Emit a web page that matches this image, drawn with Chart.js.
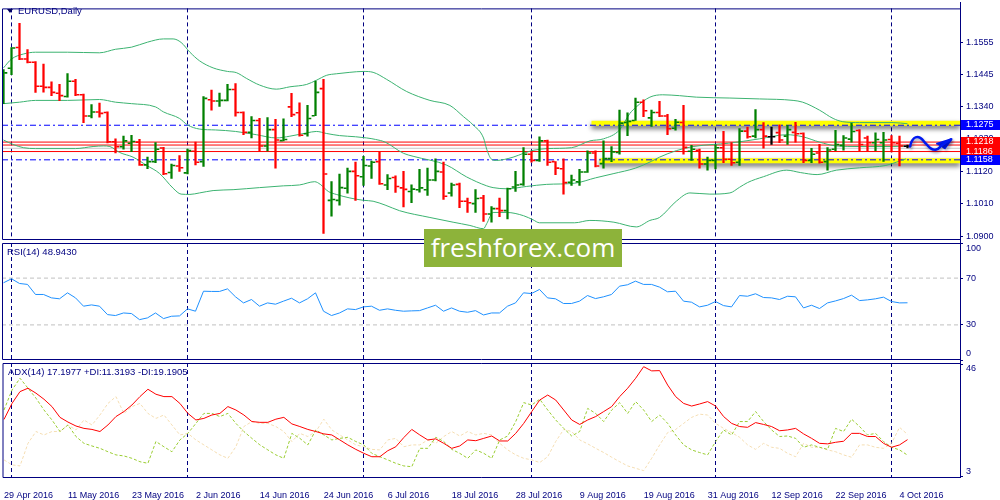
<!DOCTYPE html>
<html><head><meta charset="utf-8">
<script src="https://cdn.jsdelivr.net/npm/chart.js@4.4.1/dist/chart.umd.min.js"></script>
<style>
html,body{margin:0;padding:0;background:#fff;}
#wrap{position:relative;width:1000px;height:500px;overflow:hidden;background:#fff;font-family:"Liberation Sans",Arial,sans-serif;}
canvas{position:absolute;left:0;top:0;}
.lbl{position:absolute;font-size:9.5px;color:#000080;white-space:nowrap;line-height:12px;}
#tri{position:absolute;left:7px;top:9px;width:0;height:0;border-left:3px solid transparent;border-right:3px solid transparent;border-top:4px solid #000060;}
#wm{position:absolute;left:424px;top:229px;width:198px;height:38px;background:#8db33a;color:#fff;font-family:"Open Sans",sans-serif;font-size:26px;line-height:37px;text-align:center;}
</style></head><body>
<div id="wrap">
<canvas id="cMain" width="1000" height="500"></canvas>
<canvas id="cRsi" width="1000" height="500"></canvas>
<canvas id="cAdx" width="1000" height="500"></canvas>
<div id="tri"></div>
<div class="lbl" style="left:18px;top:5px">EURUSD,Daily</div>
<div class="lbl" style="left:7px;top:246px">RSI(14) 48.9430</div>
<div class="lbl" style="left:8px;top:366px">ADX(14) 17.1977 +DI:11.3193 -DI:19.1905</div>
<div id="wm">freshforex.com</div>
</div>
<script>
// ---------- data ----------
const barOpen = [1.1350,1.1468,1.1538,1.1499,1.1488,1.1407,1.1403,1.1383,1.1372,1.1424,
 1.1378,1.1306,1.1320,1.1318,1.1219,1.1202,1.1214,1.1218,1.1141,1.1152,
 1.1198,1.1115,1.1137,1.1114,1.1187,1.1152,1.1361,1.1357,1.1359,1.1396,
 1.1318,1.1251,1.1291,1.1205,1.1260,1.1223,1.1337,1.1317,1.1246,1.1307,
 1.1399,1.1021,1.1021,1.1062,1.1119,1.1101,1.1137,1.1152,1.1073,1.1098,
 1.1063,1.1051,1.1057,1.1057,1.1090,1.1117,1.1046,1.1075,1.1018,1.1010,
 1.1029,1.0975,1.0993,1.0986,1.1066,1.1075,1.1177,1.1156,1.1222,1.1152,
 1.1128,1.1082,1.1084,1.1117,1.1181,1.1145,1.1162,1.1183,1.1284,1.1291,
 1.1353,1.1300,1.1318,1.1306,1.1265,1.1284,1.1187,1.1190,1.1144,1.1156,
 1.1199,1.1160,1.1150,1.1255,1.1238,1.1260,1.1236,1.1250,1.1238,1.1251,
 1.1247,1.1156,1.1181,1.1152,1.1194,1.1207,1.1228,1.1257,1.1232,1.1216,
 1.1216,1.1227,1.1214,1.1204];
const barHigh = [1.1463,1.1538,1.1620,1.1531,1.1490,1.1482,1.1422,1.1413,1.1450,1.1430,
 1.1380,1.1345,1.1350,1.1320,1.1229,1.1238,1.1241,1.1227,1.1167,1.1216,
 1.1200,1.1144,1.1172,1.1194,1.1218,1.1372,1.1394,1.1384,1.1413,1.1416,
 1.1320,1.1304,1.1298,1.1301,1.1295,1.1297,1.1383,1.1351,1.1342,1.1424,
 1.1430,1.1084,1.1110,1.1130,1.1150,1.1170,1.1154,1.1185,1.1108,1.1104,
 1.1119,1.1073,1.1126,1.1130,1.1161,1.1150,1.1079,1.1079,1.1029,1.1057,
 1.1038,1.1000,1.1029,1.1062,1.1119,1.1199,1.1185,1.1236,1.1225,1.1152,
 1.1161,1.1106,1.1126,1.1188,1.1188,1.1222,1.1203,1.1326,1.1317,1.1367,
 1.1361,1.1326,1.1356,1.1312,1.1295,1.1342,1.1207,1.1194,1.1167,1.1209,
 1.1254,1.1216,1.1264,1.1269,1.1328,1.1284,1.1269,1.1276,1.1275,1.1285,
 1.1249,1.1197,1.1210,1.1199,1.1258,1.1240,1.1282,1.1260,1.1238,1.1249,
 1.1251,1.1240,1.1238,1.1208];
const barLow = [1.1348,1.1446,1.1497,1.1486,1.1386,1.1387,1.1375,1.1358,1.1370,1.1375,
 1.1284,1.1300,1.1302,1.1215,1.1181,1.1194,1.1186,1.1139,1.1128,1.1148,
 1.1108,1.1095,1.1119,1.1110,1.1141,1.1136,1.1326,1.1339,1.1357,1.1306,
 1.1243,1.1232,1.1186,1.1188,1.1130,1.1222,1.1304,1.1238,1.1238,1.1307,
 1.0909,1.0967,1.1005,1.1045,1.1021,1.1071,1.1095,1.1075,1.1057,1.1048,
 1.0999,1.1013,1.1049,1.1038,1.1087,1.1024,1.1035,1.0996,1.0980,1.0980,
 1.0950,1.0947,1.0966,1.0958,1.1051,1.1071,1.1150,1.1153,1.1139,1.1108,
 1.1042,1.1071,1.1071,1.1115,1.1134,1.1130,1.1152,1.1177,1.1240,1.1291,
 1.1304,1.1271,1.1304,1.1243,1.1258,1.1177,1.1156,1.1130,1.1123,1.1127,
 1.1148,1.1139,1.1139,1.1231,1.1232,1.1197,1.1210,1.1216,1.1210,1.1218,
 1.1148,1.1148,1.1147,1.1123,1.1189,1.1191,1.1218,1.1189,1.1189,1.1189,
 1.1153,1.1185,1.1137,1.1198];
const barClose = [1.1452,1.1536,1.1499,1.1488,1.1407,1.1403,1.1386,1.1375,1.1424,1.1378,
 1.1306,1.1320,1.1315,1.1219,1.1202,1.1222,1.1220,1.1141,1.1152,1.1194,
 1.1111,1.1139,1.1131,1.1189,1.1150,1.1366,1.1357,1.1359,1.1396,1.1318,
 1.1251,1.1291,1.1205,1.1260,1.1225,1.1227,1.1311,1.1241,1.1298,1.1386,
 1.1110,1.1024,1.1064,1.1119,1.1104,1.1139,1.1150,1.1077,1.1095,1.1068,
 1.1058,1.1059,1.1063,1.1090,1.1119,1.1035,1.1073,1.1018,1.1013,1.1027,
 1.0975,1.0993,1.0986,1.1060,1.1073,1.1177,1.1156,1.1222,1.1150,1.1130,
 1.1081,1.1090,1.1117,1.1181,1.1137,1.1162,1.1185,1.1282,1.1288,1.1353,
 1.1324,1.1318,1.1306,1.1263,1.1285,1.1200,1.1194,1.1144,1.1156,1.1199,
 1.1160,1.1148,1.1255,1.1236,1.1260,1.1238,1.1236,1.1225,1.1260,1.1246,
 1.1156,1.1177,1.1150,1.1191,1.1210,1.1232,1.1254,1.1210,1.1216,1.1227,
 1.1225,1.1216,1.1205,1.1204];

const bbUpperIdx = [0,1,2.5,4,8,12,14,16,18,20,21.2,22.2,23.3,24.5,26.2,28,29.1,30.4,32,34.1,35.8,37.9,39.1,40.4,41.6,43.3,45,46.2,47.9,50.4,53.3,55.8,57.5,58.7,60,60.4,61,61.6,63.7,65,66.2,68,71,73.3,75,77,78.3,79.1,80.8,82.4,84.5,86.6,90.8,94.5,98.7,99.9,102,103.7,104.9,107,111.2,113];
const bbUpper = [1.1469,1.1499,1.1516,1.1522,1.1522,1.1520,1.1532,1.1539,1.1556,1.1567,1.1567,1.1555,1.1522,1.1493,1.1469,1.1457,1.1453,1.1433,1.1411,1.1397,1.1405,1.1413,1.1427,1.1444,1.1449,1.1454,1.1457,1.1454,1.1430,1.1389,1.1359,1.1342,1.1304,1.1276,1.1232,1.1194,1.1160,1.1156,1.1167,1.1180,1.1190,1.1196,1.1199,1.1222,1.1229,1.1259,1.1315,1.1337,1.1370,1.1378,1.1375,1.1370,1.1367,1.1364,1.1359,1.1353,1.1326,1.1298,1.1287,1.1284,1.1284,1.1280];
const bbMidIdx = [0,2,4,8,12,14,16,19,20,22,23,24.5,26.5,29,31.6,34.1,35.8,37.9,39.1,40.4,42,44,45.4,46.5,47.7,50,51.2,55.4,57.9,60.4,61.2,62.9,65.4,67.9,71.4,74,76.2,79,81,82,84.1,86.2,88.7,90.6,94.5,97.9,99.9,102,104.1,107,111.2,113];
const bbMid = [1.1348,1.1353,1.1359,1.1359,1.1362,1.1353,1.1348,1.1337,1.1320,1.1298,1.1276,1.1262,1.1259,1.1254,1.1243,1.1232,1.1238,1.1249,1.1254,1.1247,1.1240,1.1236,1.1232,1.1227,1.1218,1.1180,1.1170,1.1140,1.1100,1.1070,1.1064,1.1060,1.1068,1.1075,1.1079,1.1097,1.1111,1.1130,1.1153,1.1167,1.1189,1.1203,1.1210,1.1214,1.1229,1.1243,1.1236,1.1218,1.1205,1.1203,1.1203,1.1205];
const bbLowerIdx = [0,1.2,2.5,4,9,11.2,12.5,13.3,14.5,16.2,17.9,19.5,21.2,22.2,23.3,24.5,26.2,28.7,32,35,37,38.9,39.6,40.6,41.6,43.3,45,46.2,47.7,49.5,53.3,56.2,58.3,60,60.4,61.2,62.9,65,66.2,67,71.4,73.3,76.3,79.1,80.8,82,84.1,85.8,88.3,90.8,92,93,95,97.9,99.6,101.7,104.1,107,110.3,111.6,112.8];
const bbLower = [1.1225,1.1210,1.1199,1.1196,1.1196,1.1203,1.1205,1.1203,1.1183,1.1167,1.1139,1.1112,1.1062,1.1042,1.1041,1.1046,1.1054,1.1057,1.1064,1.1070,1.1073,1.1084,1.1075,1.1051,1.1041,1.1029,1.1021,1.1018,1.1005,1.0986,1.0963,1.0947,1.0936,1.0925,1.0942,1.0980,1.0980,1.0969,1.0955,1.0945,1.0945,1.0953,1.0947,1.0931,1.0953,1.0963,1.1018,1.1046,1.1042,1.1046,1.1065,1.1081,1.1101,1.1123,1.1115,1.1108,1.1123,1.1131,1.1139,1.1150,1.1161];

const rsi = [66.0,69.4,65.4,64.6,56.0,56.0,53.1,52.3,57.4,53.1,
 46.0,47.1,46.0,38.8,38.0,40.2,39.7,34.5,36.0,40.2,
 35.4,37.4,37.7,43.7,41.7,58.8,58.6,58.6,60.8,54.0,
 48.8,51.7,46.0,48.8,47.7,50.3,52.8,48.8,52.3,57.4,
 41.7,38.0,40.2,43.7,43.1,45.4,46.0,42.5,43.7,42.5,
 41.7,42.0,42.2,44.5,46.8,41.7,44.5,41.7,40.8,42.2,
 38.5,40.2,40.2,46.0,48.8,57.4,56.8,60.3,53.1,52.3,
 48.3,48.3,50.3,55.1,52.5,54.0,56.0,63.1,64.3,67.4,
 64.6,64.6,62.3,58.3,58.8,50.3,49.4,45.4,46.8,50.0,
 46.5,45.4,55.1,54.5,56.6,53.4,53.1,51.7,54.5,54.0,
 44.5,46.8,44.0,48.8,50.5,52.5,55.4,50.8,51.4,52.3,
 53.7,50.0,48.8,48.9];
const adx = [24.9,31.0,35.5,36.8,34.9,32.6,29.8,25.7,23.9,22.4,
 21.5,21.1,20.3,22.8,26.0,27.9,30.4,33.6,36.4,34.5,
 33.6,33.6,31.0,27.2,24.7,25.3,26.6,27.2,29.8,28.5,
 26.6,24.1,23.8,23.8,25.0,25.7,23.2,22.2,21.1,20.3,
 19.4,19.0,17.1,15.2,13.5,12.0,10.7,10.7,13.0,14.5,
 18.0,21.1,19.0,17.1,17.5,15.8,13.9,14.8,17.1,16.8,
 17.7,18.6,16.7,16.7,19.6,23.4,27.9,32.3,34.2,32.3,
 28.5,24.7,23.0,24.7,26.0,27.9,29.8,33.6,36.8,40.6,
 45.0,43.4,43.5,38.0,33.6,31.0,30.0,30.8,31.7,30.0,
 26.0,23.4,22.2,21.9,23.7,23.0,22.2,20.6,20.9,21.5,
 19.4,17.7,15.8,15.6,16.2,16.6,19.6,19.6,18.4,18.4,
 15.8,14.3,15.2,17.2];
const plusDi = [28.5,36.1,40.6,36.8,33.0,28.5,24.7,20.3,22.8,18.4,
 15.8,14.8,13.9,12.6,11.4,11.0,10.1,8.8,8.2,16.5,
 14.5,12.6,17.1,19.6,23.4,27.2,27.2,26.0,27.2,23.4,
 20.3,17.7,15.2,13.3,11.4,10.1,19.6,17.7,15.2,20.9,
 19.0,17.1,17.7,18.1,16.5,15.2,12.0,10.7,9.5,8.2,
 7.2,6.9,13.9,13.9,18.1,16.5,13.5,12.0,10.1,13.3,
 12.0,10.1,17.1,18.6,24.1,31.3,30.4,32.6,28.5,24.7,
 21.5,18.6,20.3,29.1,27.2,24.1,28.5,31.3,27.2,31.7,
 28.5,24.1,26.6,23.4,19.0,15.2,13.3,12.3,11.4,16.5,
 20.9,19.0,24.1,24.1,27.9,24.1,20.9,18.4,18.6,17.7,
 14.3,15.2,14.3,13.5,21.5,20.3,25.0,22.2,19.0,19.6,
 16.5,14.3,13.3,11.3];
const minusDi = [9.5,7.6,7.2,15.8,20.3,19.0,20.3,20.3,22.8,20.9,
 24.7,22.8,26.6,31.0,33.6,27.2,29.8,31.0,27.2,25.3,
 26.6,22.8,19.0,19.6,17.1,15.2,13.3,11.4,10.1,14.5,
 22.2,24.1,23.4,23.4,22.2,20.3,16.5,19.6,18.4,20.3,
 25.0,20.9,19.0,17.1,15.2,14.5,13.5,13.3,17.1,17.7,
 14.5,15.2,15.2,17.1,15.8,18.4,20.3,18.6,20.3,19.0,
 19.6,19.0,15.8,13.3,11.4,10.1,9.5,8.5,10.7,16.5,
 21.1,20.3,17.1,15.6,13.9,12.3,10.5,8.8,7.2,6.3,
 5.4,10.1,15.2,19.9,21.1,23.4,25.7,26.9,26.6,23.4,
 21.5,19.9,18.1,15.2,13.5,15.8,14.3,13.9,12.0,10.7,
 15.8,14.3,14.3,13.3,12.6,11.4,10.5,15.2,15.2,14.3,
 13.9,15.8,21.9,19.2];

const separatorIdx = [1,23,45,66,89,111];
const dateTickIdx = [0,8,16,24,32,40,48,56,64,72,80,88,96,104,112];
const dateTickLabels = ['29 Apr 2016','11 May 2016','23 May 2016','2 Jun 2016','14 Jun 2016','24 Jun 2016','6 Jul 2016','18 Jul 2016','28 Jul 2016','9 Aug 2016','19 Aug 2016','31 Aug 2016','12 Sep 2016','22 Sep 2016','4 Oct 2016'];
const priceTicks = [1.0900,1.1010,1.1120,1.1230,1.1340,1.1445,1.1555];
const redLevels = [1.1218,1.1208,1.1186];
const blueLevels = [1.1275,1.1158];
const bidLevel = 1.1197;
const zoneLevels = [1.1282,1.1155];
const zoneStartIdx = [73.5,74.5];
const boxLevels = [1.1275,1.1218,1.1186,1.1158];
const boxColors = ['#0000ff','#ff0000','#ff0000','#0000ff'];
const rsiLevels = [30,70];
const rsiEdge = [[100,'100'],[0,'0']];
const adxEdge = [[46,'46'],[3,'3']];
const arrowIdx = [113.3,113.6,114.0,114.6,115.3,115.9,116.6,117.3,117.9,118.4];
const arrowPrice = [1.1203,1.1224,1.1234,1.1232,1.1213,1.1197,1.1193,1.1207,1.1218,1.1227];
const arrowHeadIdx = [116.6,118.5,117.6];
const arrowHeadPrice = [1.1212,1.1228,1.1195];

// ---------- setup ----------
const NAVY = '#000080';
const X_MIN = -0.1875, X_MAX = 119.5625;
Chart.defaults.font.family = '"Liberation Sans", Arial, sans-serif';
Chart.defaults.font.size = 9;
Chart.defaults.color = NAVY;

const idx = barOpen.map((_, i) => i);
const barColors = idx.map(i => barClose[i] > barOpen[i] ? '#008000' : (barClose[i] < barOpen[i] ? '#ff0000' : '#000000'));
const TICK = 2.3 / 8;
const pts = (xs, ys) => xs.map((x, k) => ({x, y: ys[k]}));
const flat = (v, x0) => [{x: x0, y: v}, {x: X_MAX, y: v}];
const series = arr => arr.map((v, i) => ({x: i, y: v}));

const framePlugin = {
  id: 'frame',
  afterDatasetsDraw(chart) {
    const {ctx, chartArea: a} = chart;
    ctx.save(); ctx.strokeStyle = NAVY; ctx.lineWidth = 1;
    ctx.beginPath();
    ctx.moveTo(a.right + 0.5, a.top + 0.5); ctx.lineTo(a.left + 0.5, a.top + 0.5);
    ctx.lineTo(a.left + 0.5, a.bottom - 0.5); ctx.lineTo(a.right + 0.5, a.bottom - 0.5);
    ctx.stroke(); ctx.restore();
  }
};
const shadowPlugin = {
  id: 'dsShadow',
  beforeDatasetDraw(chart, args) {
    const ds = chart.data.datasets[args.index];
    if (ds.shadow) { const c = chart.ctx; c.save(); c.shadowColor = ds.shadow.color; c.shadowBlur = ds.shadow.blur; c.shadowOffsetX = ds.shadow.x || 0; c.shadowOffsetY = ds.shadow.y || 0; }
  },
  afterDatasetDraw(chart, args) {
    const ds = chart.data.datasets[args.index];
    if (ds.shadow) chart.ctx.restore();
  }
};
const boxPlugin = {
  id: 'priceBoxes',
  afterDraw(chart) {
    const {ctx} = chart; const y = chart.scales.y;
    ctx.save(); ctx.font = '9px "Liberation Sans", Arial, sans-serif'; ctx.textBaseline = 'middle'; ctx.textAlign = 'left';
    boxLevels.forEach((v, k) => {
      const py = y.getPixelForValue(v);
      ctx.fillStyle = boxColors[k]; ctx.fillRect(961, Math.round(py) - 5, 39, 10);
      ctx.fillStyle = '#ffffff'; ctx.fillText(v.toFixed(4), 966, Math.round(py));
    });
    ctx.restore();
  }
};
function edgeLabels(items) {
  return {
    id: 'edgeLabels',
    afterDraw(chart) {
      const {ctx, chartArea: a} = chart; const y = chart.scales.y;
      ctx.save(); ctx.fillStyle = NAVY; ctx.font = '9px "Liberation Sans", Arial, sans-serif'; ctx.textBaseline = 'middle'; ctx.textAlign = 'left';
      items.forEach(([v, t]) => {
        const py = Math.min(Math.max(y.getPixelForValue(v), a.top + 6), a.bottom - 6);
        ctx.fillText(t, 966, py);
      });
      ctx.restore();
    }
  };
}
const axisLinePlugin = {
  id: 'axisLine',
  afterDraw(chart) {
    const {ctx} = chart; ctx.save(); ctx.strokeStyle = NAVY; ctx.lineWidth = 1;
    ctx.beginPath(); ctx.moveTo(960.5, 2); ctx.lineTo(960.5, 478); ctx.stroke(); ctx.restore();
  }
};

const sepAxis = (extra) => Object.assign({
  type: 'linear', min: X_MIN, max: X_MAX, offset: false, position: 'bottom',
  afterBuildTicks: s => { s.ticks = separatorIdx.map(v => ({value: v})); },
  ticks: {display: false},
  grid: {display: true, color: NAVY, lineWidth: 1, drawTicks: false, offset: false},
  border: {display: false, dash: [4, 3]},
  afterFit: s => { s.height = 0; }
}, extra || {});
const baseOpts = {
  responsive: false, animation: false, devicePixelRatio: 1,
  plugins: {legend: {display: false}, tooltip: {enabled: false}},
  events: []
};

// ---------- main price panel ----------
const lineDs = (data, color, width, extra) => Object.assign({type: 'line', data, borderColor: color, borderWidth: width, pointRadius: 0, fill: false}, extra || {});
const mainDatasets = [];
zoneLevels.forEach((v, k) => mainDatasets.push(lineDs(flat(v, zoneStartIdx[k]), '#ffff00', 5, {order: 6, shadow: {color: 'rgba(0,0,0,0.6)', blur: 5, y: 3}})));
mainDatasets.push(lineDs(flat(bidLevel, X_MIN), '#c8c8c8', 1, {order: 5}));
blueLevels.forEach(v => mainDatasets.push(lineDs(flat(v, X_MIN), '#0000ff', 1, {order: 4, borderDash: [6, 3, 2, 3]})));
redLevels.forEach(v => mainDatasets.push(lineDs(flat(v, X_MIN), '#ff0000', 1, {order: 4})));
[[bbUpperIdx, bbUpper], [bbMidIdx, bbMid], [bbLowerIdx, bbLower]].forEach(([xs, ys]) =>
  mainDatasets.push(lineDs(pts(xs, ys), '#3cb371', 1, {order: 3, cubicInterpolationMode: 'monotone'})));
mainDatasets.push({type: 'bar', data: idx.map(i => ({x: i, y: [barLow[i], barHigh[i]]})), backgroundColor: barColors, barThickness: 1.6, borderWidth: 0, order: 2});
mainDatasets.push({type: 'line', showLine: false, data: idx.map(i => ({x: i - TICK, y: barOpen[i]})), pointStyle: 'line', pointRadius: 1.5, pointBorderWidth: 1.6, pointBorderColor: barColors, pointBackgroundColor: barColors, order: 2});
mainDatasets.push({type: 'line', showLine: false, data: idx.map(i => ({x: i + TICK, y: barClose[i]})), pointStyle: 'line', pointRadius: 1.5, pointBorderWidth: 1.6, pointBorderColor: barColors, pointBackgroundColor: barColors, order: 2});
mainDatasets.push(lineDs(pts(arrowIdx, arrowPrice), '#0018f0', 2.5, {order: 0, tension: 0.45, borderCapStyle: 'round', borderJoinStyle: 'round', shadow: {color: 'rgba(0,0,60,0.4)', blur: 3, x: 1, y: 2}}));
mainDatasets.push(lineDs(pts(arrowHeadIdx, arrowHeadPrice), '#0018f0', 2, {order: 0, fill: 'shape', backgroundColor: '#0018f0', borderJoinStyle: 'round', shadow: {color: 'rgba(0,0,60,0.4)', blur: 3, x: 1, y: 2}}));

new Chart(document.getElementById('cMain'), {
  type: 'bar',
  data: {datasets: mainDatasets},
  options: Object.assign({}, baseOpts, {
    layout: {autoPadding: false, padding: {top: 2, left: 2, right: 0, bottom: 260}},
    scales: {
      x: sepAxis(),
      y: {
        type: 'linear', position: 'right', min: 1.08868, max: 1.16702,
        afterBuildTicks: s => { s.ticks = priceTicks.map(v => ({value: v})); },
        ticks: {color: NAVY, padding: 3, callback: v => Number(v).toFixed(4)},
        grid: {drawOnChartArea: false, drawTicks: true, tickLength: 3, color: NAVY},
        border: {display: false},
        afterFit: s => { s.width = 40; }
      }
    }
  }),
  plugins: [shadowPlugin, framePlugin, boxPlugin]
});

// ---------- RSI panel ----------
const rsiDatasets = rsiLevels.map(v => lineDs(flat(v, X_MIN), '#c0c0c0', 1, {borderDash: [4, 3], order: 2}));
rsiDatasets.push(lineDs(series(rsi), '#1e90ff', 1, {order: 1}));
new Chart(document.getElementById('cRsi'), {
  type: 'line',
  data: {datasets: rsiDatasets},
  options: Object.assign({}, baseOpts, {
    layout: {autoPadding: false, padding: {top: 243, left: 2, right: 0, bottom: 140}},
    scales: {
      x: sepAxis(),
      y: {
        type: 'linear', position: 'right', min: 0, max: 100,
        afterBuildTicks: s => { s.ticks = [0, 30, 70, 100].map(v => ({value: v})); },
        ticks: {color: NAVY, padding: 3, callback: v => (rsiLevels.includes(v) ? String(v) : '')},
        grid: {drawOnChartArea: false, drawTicks: true, tickLength: 3, color: NAVY},
        border: {display: false},
        afterFit: s => { s.width = 40; }
      }
    }
  }),
  plugins: [framePlugin, edgeLabels(rsiEdge)]
});

// ---------- ADX panel ----------
const adxDatasets = [
  lineDs(series(minusDi), '#f5deb3', 1, {borderDash: [3, 2], order: 3}),
  lineDs(series(plusDi), '#9acd32', 1, {borderDash: [3, 2], order: 2}),
  lineDs(series(adx), '#ff0000', 1, {order: 1})
];
new Chart(document.getElementById('cAdx'), {
  type: 'line',
  data: {datasets: adxDatasets},
  options: Object.assign({}, baseOpts, {
    layout: {autoPadding: false, padding: {top: 363, left: 2, right: 0, bottom: 0}},
    scales: {
      x: {
        type: 'linear', min: X_MIN, max: X_MAX, offset: false, position: 'bottom',
        afterBuildTicks: s => { s.ticks = dateTickIdx.map(v => ({value: v})); },
        ticks: {autoSkip: false, maxRotation: 0, minRotation: 0, align: 'start', padding: 4, color: NAVY,
          callback: v => dateTickLabels[dateTickIdx.indexOf(v)]},
        grid: {display: false},
        border: {display: false},
        afterFit: s => { s.height = 22; }
      },
      xs: sepAxis(),
      y: {
        type: 'linear', position: 'right', min: 2.6, max: 46.4,
        afterBuildTicks: s => { s.ticks = [3, 46].map(v => ({value: v})); },
        ticks: {color: NAVY, padding: 3, callback: () => ''},
        grid: {drawOnChartArea: false, drawTicks: true, tickLength: 3, color: NAVY},
        border: {display: false},
        afterFit: s => { s.width = 40; }
      }
    }
  }),
  plugins: [framePlugin, edgeLabels(adxEdge), axisLinePlugin]
});
</script>
</body></html>
